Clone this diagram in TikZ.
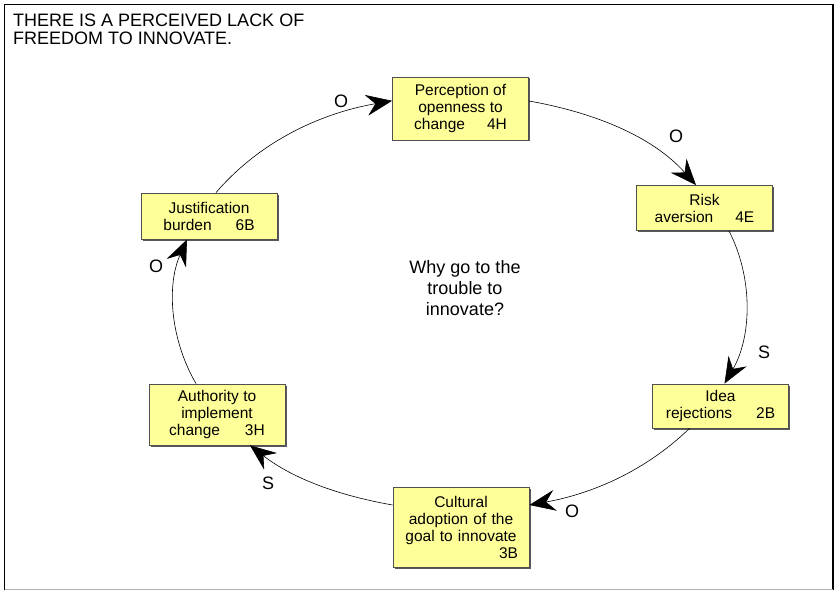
\documentclass[tikz,border=0pt]{standalone}
\usepackage{fontspec}
\setmainfont{Liberation Sans}
\usetikzlibrary{arrows.meta,shadows,calc}
\definecolor{boxfill}{RGB}{255,255,153}
\definecolor{boxline}{RGB}{80,80,80}
\begin{document}
\begin{tikzpicture}[x=1pt,y=1pt,
  box/.style={draw=boxline, line width=0.8pt, fill=boxfill, minimum width=136pt,
    align=center, inner sep=2pt, font=\fontsize{15.5}{17}\selectfont,
    drop shadow={shadow xshift=1.5pt, shadow yshift=-1.5pt, fill=black!65, opacity=1}},
  conn/.style={line width=0.6pt, -{Stealth[length=26pt,width=21pt,inset=9pt]}, looseness=0.9},
  lbl/.style={font=\fontsize{18}{20}\selectfont, inner sep=0pt},
  big/.style={font=\fontsize{18}{21}\selectfont, inner sep=0pt}]
\useasboundingbox (0,0) rectangle (835,-591);
\draw[line width=1.2pt] (4.5,-4.5) rectangle (833,-589.5);
\draw[line width=1.2pt, gray!60] (4.5,-589.5) -- (833,-589.5);

\node[big, anchor=north west, align=left] (head) at (13,-14) {THERE IS A PERCEIVED LACK OF\\[-3pt]FREEDOM TO INNOVATE.};

\node[box, minimum height=63pt] (P) at (460.5,-108.5) {Perception of\\openness to\\change\hspace{22pt}4H};
\node[box, minimum height=45pt] (R) at (704.5,-208) {Risk\\aversion\hspace{22pt}4E};
\node[box, minimum height=44pt] (I) at (720.5,-406) {Idea\\rejections\hspace{24pt}2B};
\node[box, minimum height=80pt, text width=114pt] (C) at (461,-527) {Cultural\\adoption of the\\goal to innovate\\\makebox[114pt][r]{3B}};
\node[box, minimum height=61pt] (A) at (217,-414.5) {Authority to\\implement\\change\hspace{25pt}3H};
\node[box, minimum height=46pt] (J) at (209,-216) {Justification\\burden\hspace{24pt}6B};

\node[big, align=center] (why) at (465,-288) {Why go to the\\trouble to\\innovate?};

\draw[conn] ([yshift=7.5pt]P.east) to[out=-10,in=131.8] ([xshift=-8.5pt]R.north);
\draw[conn] ([xshift=24.5pt]R.south) to[out=-62.9,in=59.8] ([xshift=4pt]I.north);
\draw[conn] ([xshift=-31pt]I.south) to[out=-136,in=10.2] ([yshift=22pt]C.east);
\draw[conn] ([yshift=22pt]C.west) to[out=170.1,in=-37.8] ([xshift=33pt]A.south);
\draw[conn] ([xshift=-21pt]A.north) to[out=120.2,in=-114.1] ([xshift=-22pt]J.south);
\draw[conn] ([xshift=7pt]J.north) to[out=49.3,in=-170.1] ([yshift=7.7pt]P.west);

\node[lbl] (l1) at (341,-101) {O};
\node[lbl] (l2) at (676,-136) {O};
\node[lbl] (l3) at (764,-352) {S};
\node[lbl] (l4) at (572,-511) {O};
\node[lbl] (l5) at (268,-483) {S};
\node[lbl] (l6) at (156,-266) {O};
\end{tikzpicture}
\end{document}
